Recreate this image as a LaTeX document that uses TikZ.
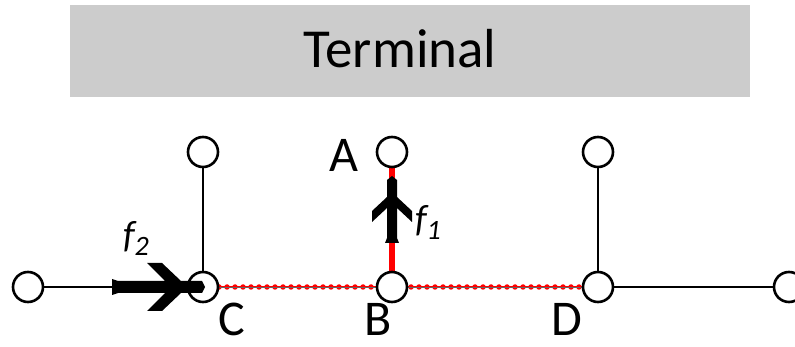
\documentclass[tikz,border=0pt]{standalone}
\usepackage{fontspec}
\setmainfont{Carlito}
\begin{document}
\begin{tikzpicture}[x=1pt,y=-1pt,
  vtx/.style={circle,draw=black,fill=white,line width=2.6pt,minimum size=30pt,inner sep=0pt},
  edge/.style={line width=2pt,black},
  redline/.style={red,line width=2.6pt},
  reddots/.style={red,line width=5.5pt,line cap=round,dash pattern=on 0pt off 8pt},
  lbl/.style={font=\fontsize{50}{50}\selectfont,inner sep=0pt},
  flbl/.style={font=\fontsize{38}{38}\selectfont\itshape,inner sep=0pt}]
\useasboundingbox (0,0) rectangle (795,347);
\node[fill=black!20,minimum width=680pt,minimum height=92pt,inner sep=0pt] (term) at (410,51) {};
\node[font=\fontsize{55}{55}\selectfont,inner sep=0pt] (termtext) at (400,49) {Terminal};

\coordinate (lp) at (28,287);
\coordinate (cp) at (203,287);
\coordinate (ctp) at (203,152);
\coordinate (bp) at (392,287);
\coordinate (ap) at (392,152);
\coordinate (dp) at (598,287);
\coordinate (dtp) at (598,152);
\coordinate (rp) at (789,287);

% black edges
\draw[edge] (lp) -- (cp);
\draw[edge] (ctp) -- (cp);
\draw[edge] (dtp) -- (dp);
\draw[edge] (dp) -- (rp);
% red path
\draw[redline] (cp) -- (dp);
\draw[reddots] (cp) -- (dp);
\draw[black!60,line width=0.9pt] (cp) -- (dp);
\draw[red,line width=6pt] (bp) -- (ap);

% f1 arrow
\fill[black] (385,243) -- (387,238) -- (387,208) -- (372,222) -- (372,211) -- (387,197)
  -- (387,180) -- (392,176) -- (397,180) -- (397,197) -- (412,211) -- (412,222)
  -- (397,208) -- (397,238) -- (399,243) -- cycle;

% vertices
\node[vtx] (L) at (lp) {};
\node[vtx] (C) at (cp) {};
\node[vtx] (CT) at (ctp) {};
\node[vtx] (B) at (bp) {};
\node[vtx] (A) at (ap) {};
\node[vtx] (D) at (dp) {};
\node[vtx] (DT) at (dtp) {};
\node[vtx] (R) at (rp) {};

% f2 arrow (drawn over C)
\fill[black] (112,279) -- (118,281) -- (165,281) -- (147,263) -- (162,263) -- (181,281)
  -- (202,281) -- (205,287) -- (202,293) -- (181,293) -- (162,311) -- (147,311)
  -- (165,293) -- (118,293) -- (112,295) -- cycle;

% labels
\node[lbl] (la) at (344,155) {A};
\node[lbl] (lc) at (232,319) {C};
\node[lbl] (lb) at (378,319) {B};
\node[lbl] (ld) at (567,319) {D};
\node[flbl] (f2) at (136,238) {f\raisebox{-8pt}{\fontsize{28}{28}\selectfont 2}};
\node[flbl] (f1) at (428,222) {f\raisebox{-8pt}{\fontsize{28}{28}\selectfont 1}};
\end{tikzpicture}
\end{document}
